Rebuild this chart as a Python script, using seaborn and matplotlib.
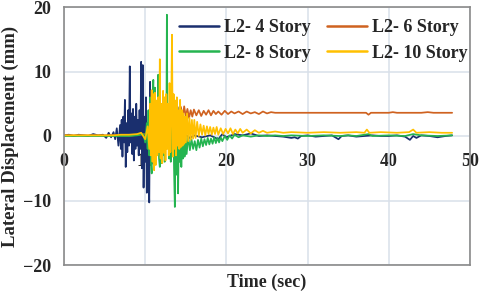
import matplotlib
matplotlib.use("Agg")
import matplotlib.pyplot as plt
from matplotlib.lines import Line2D
import seaborn as sns
import pandas as pd

# ---------------- data ----------------
series_names = ["L2- 4 Story", "L2- 6 Story", "L2- 8 Story", "L2- 10 Story"]
series_colors = ["#1a2f6e", "#cf6220", "#25b450", "#ffc000"]

t4 = [0.0, 0.6, 1.2, 1.8, 2.4, 3.0, 3.6, 4.2, 4.8, 5.2, 5.5, 5.8, 6.1, 6.3, 6.5, 6.7, 6.9, 7.0, 7.1, 7.2,
      7.3, 7.4, 7.5, 7.6, 7.7, 7.8, 7.9, 8.0, 8.1, 8.2, 8.3, 8.4, 8.5, 8.6, 8.7, 8.8, 8.9, 9.0, 9.1, 9.2,
      9.3, 9.4, 9.5, 9.6, 9.7, 9.8, 9.9, 10.0, 10.1, 10.2, 10.3, 10.4, 10.5, 10.6, 10.7, 10.8, 10.9, 11.0,
      11.2, 11.4, 11.6, 11.8, 12.0, 12.4, 12.8, 13.2, 13.6, 14.0, 14.5, 15.0, 15.5, 16.0, 17.0, 18.0, 19.0,
      19.5, 20.0, 21.0, 22.0, 23.0, 24.0, 25.0, 26.0, 27.0, 28.0, 28.4, 28.8, 29.2, 30.0, 31.0, 32.0, 33.0,
      33.8, 34.2, 35.0, 36.0, 37.0, 38.0, 39.0, 40.0, 41.0, 42.0, 42.6, 43.0, 43.4, 44.0, 45.0, 46.0, 47.0, 47.8]
y4 = [0.1, 0.2, 0.0, 0.2, 0.1, 0.0, 0.3, 0.1, 0.2, -0.3, 0.5, -0.2, 0.6, -0.5, 1.2, -1.5, 1.7, -2.0, 2.5, -3.2,
      3.0, -1.0, 5.6, -4.8, 2.0, -2.5, 4.0, -1.5, 10.8, -1.0, 3.5, -2.8, 4.2, -3.8, 3.0, -2.0, 5.0, -1.5, 2.5, -3.0,
      4.0, -2.0, 11.5, -5.0, 11.0, -8.0, 3.0, -4.0, 6.0, -8.8, 2.0, -6.0, -10.3, 8.4, -3.0, 2.0, -2.0, 1.0,
      -1.0, 0.8, -0.6, 0.5, -0.4, 0.4, -0.5, 0.3, -0.6, 0.2, -0.4, 0.2, -0.3, 0.1, -0.2, 0.1, -0.5,
      0.3, -0.2, 0.3, 0.1, 0.4, 0.0, 0.1, 0.0, -0.1, -0.3, -0.2, -0.4, 0.0, 0.1, -0.1, 0.0, 0.1,
      -0.5, 0.0, 0.1, -0.1, 0.0, 0.1, 0.0, 0.0, 0.1, -0.1, -0.6, 0.0, -0.3, 0.1, 0.0, -0.2, 0.0, 0.1]

t6 = [0.0, 2.0, 4.0, 6.0, 8.0, 9.0, 10.0, 10.5, 10.8, 11.0, 11.2, 11.4, 11.6, 11.8, 12.0, 12.2, 12.4, 12.6,
      12.8, 13.0, 13.2, 13.4, 13.6, 13.8, 14.0, 14.2, 14.4, 14.6, 14.8, 15.0, 15.2, 15.4, 15.6, 15.8, 16.0,
      16.3, 16.6, 16.9, 17.2, 17.5, 17.8, 18.1, 18.4, 18.7, 19.0, 19.4, 19.8, 20.2, 20.6, 21.0, 21.5, 22.0,
      22.5, 23.0, 23.5, 24.0, 24.5, 25.0, 25.5, 26.0, 27.0, 30.0, 33.0, 36.0, 37.2, 37.5, 37.8, 40.0, 40.5,
      41.0, 44.0, 44.8, 45.5, 47.8]
y6 = [0.1, 0.1, 0.1, 0.1, 0.0, 0.2, 0.3, -1.0, 1.5, -2.0, 2.5, -1.5, 3.0, -1.0, 2.0, -2.0, 3.5, -1.0,
      4.0, -0.5, 3.0, -1.5, 4.0, -2.5, 4.5, 2.0, 4.5, 2.8, 4.6, 3.0, 4.2, 2.8, 4.0, 3.0, 4.1,
      3.2, 4.0, 3.1, 3.9, 3.3, 4.0, 3.2, 3.9, 3.4, 3.8, 3.3, 3.9, 3.4, 3.8, 3.5, 3.8, 3.4,
      3.8, 3.5, 3.7, 3.4, 3.8, 3.5, 3.7, 3.6, 3.6, 3.6, 3.6, 3.6, 3.6, 3.3, 3.6, 3.6, 3.7,
      3.6, 3.6, 3.7, 3.6, 3.6]

t8 = [0.0, 2.0, 4.0, 6.0, 8.0, 9.0, 9.8, 10.0, 10.2, 10.3, 10.4, 10.5, 10.6, 10.7, 10.8, 10.9, 11.0, 11.1,
      11.2, 11.3, 11.4, 11.5, 11.6, 11.7, 11.8, 11.9, 12.0, 12.1, 12.2, 12.3, 12.4, 12.5, 12.6, 12.67, 12.75,
      12.85, 12.95, 13.05, 13.15, 13.25, 13.35, 13.45, 13.55, 13.65, 13.75, 13.85, 13.95, 14.05, 14.15, 14.25,
      14.35, 14.45, 14.55, 14.65, 14.75, 14.85, 14.95, 15.1, 15.3, 15.5, 15.7, 15.9, 16.1, 16.3, 16.5, 16.7,
      16.9, 17.1, 17.3, 17.5, 17.7, 17.9, 18.1, 18.3, 18.5, 18.7, 18.9, 19.1, 19.3, 19.5, 19.8, 20.1, 20.4,
      20.7, 21.0, 21.5, 22.0, 23.0, 24.0, 25.0, 26.0, 27.0, 28.0, 30.0, 32.0, 34.0, 35.0, 36.0, 37.5, 38.0,
      40.0, 42.0, 43.0, 44.0, 46.0, 47.8]
y8 = [0.0, 0.0, 0.0, 0.0, 0.0, 0.1, 0.3, -1.0, 2.0, -2.0, 4.0, -3.0, 6.0, -4.0, -5.8, 5.0, 8.7, -3.0,
      7.5, -4.0, 5.0, -2.0, 9.5, -3.5, -4.8, 3.0, -4.2, 4.0, -3.0, 5.0, -4.0, 3.0, -2.0, 18.8, -1.0,
      4.0, -3.5, 3.0, -4.0, 2.0, -3.0, 4.0, -5.0, -11.0, 3.0, -6.0, 4.5, -8.9, 2.0, -4.0,
      3.0, -4.8, 1.5, -3.5, 1.0, -3.2, 0.5, -2.8, 0.0, -2.2, -0.5, -2.0, -0.8, -2.2, -0.6, -1.8,
      -0.4, -1.6, -0.5, -1.4, -0.3, -1.3, -0.4, -1.2, -0.2, -1.1, -0.3, -1.0, -0.2, -0.8, 0.0, -0.6, 0.1,
      -0.4, 0.2, -0.2, 0.1, -0.1, 0.1, 0.0, 0.1, 0.0, 0.1, 0.0, 0.1, 0.0, 0.1, 0.0, 0.3, 0.0,
      0.1, 0.0, 0.3, 0.1, 0.0, 0.1]

t10 = [0.0, 1.0, 2.0, 3.0, 4.0, 5.0, 6.0, 7.0, 8.0, 9.0, 9.5, 10.0, 10.3, 10.5, 10.6, 10.7, 10.8, 10.9, 11.0,
       11.1, 11.2, 11.3, 11.4, 11.5, 11.6, 11.7, 11.8, 11.9, 12.0, 12.1, 12.2, 12.3, 12.4, 12.5, 12.6, 12.7,
       12.8, 12.9, 13.0, 13.1, 13.2, 13.3, 13.4, 13.5, 13.6, 13.7, 13.8, 13.9, 14.0, 14.1, 14.2, 14.3, 14.4,
       14.5, 14.6, 14.7, 14.8, 14.9, 15.0, 15.15, 15.3, 15.45, 15.6, 15.75, 15.9, 16.05, 16.2, 16.4, 16.6,
       16.8, 17.0, 17.2, 17.4, 17.6, 17.8, 18.0, 18.2, 18.4, 18.6, 18.8, 19.0, 19.3, 19.6, 19.9, 20.2, 20.5,
       20.8, 21.1, 21.4, 21.7, 22.0, 22.5, 23.0, 23.5, 24.0, 24.5, 25.0, 26.0, 27.0, 28.0, 30.0, 32.0, 34.0,
       36.0, 37.0, 37.3, 37.6, 39.0, 41.0, 42.5, 43.0, 43.4, 45.0, 46.5, 47.8]
y10 = [0.1, 0.1, 0.1, 0.1, 0.1, 0.1, 0.1, 0.2, 0.2, 0.3, 0.5, -0.5, 1.5, -2.0, 5.0, -3.0, 7.1, -4.0, 6.5,
       -5.3, 6.7, -4.5, 5.5, -3.0, 6.0, -2.5, 11.9, -3.5, 5.0, -4.2, 7.0, -2.6, 6.0, -3.8, 6.5, -2.0,
       5.0, -3.0, 8.2, -2.5, 4.0, 15.7, -3.2, 6.5, -2.0, 5.5, -3.0, 6.0, -1.5, 4.0, -2.0, 5.6, -1.7,
       4.0, -1.5, 3.5, -1.2, 3.0, -1.0, 3.5, -0.8, 2.8, -0.6, 2.5, -0.4, 2.5, -0.3, 2.2, 0.0,
       1.8, 0.2, 1.6, 0.1, 1.5, 0.3, 1.4, 0.2, 1.3, 0.3, 1.4, 0.2, 1.2, 0.3, 1.1, 0.4, 1.2,
       0.3, 1.0, 0.4, 1.1, 0.5, 1.0, 0.4, 0.9, 0.5, 0.8, 0.5, 0.7, 0.5, 0.6, 0.5, 0.6, 0.5,
       0.6, 0.5, 1.0, 0.5, 0.6, 0.5, 0.6, 1.0, 0.5, 0.6, 0.5, 0.5]

x_ticks = [0, 10, 20, 30, 40, 50]
y_ticks = [-20, -10, 0, 10, 20]

# ---------------- build long table ----------------
frames = []
for name, t, y in zip(series_names, [t4, t6, t8, t10], [y4, y6, y8, y10]):
    frames.append(pd.DataFrame({"time": t, "disp": y, "series": name}))
df = pd.concat(frames, ignore_index=True)

sns.set_theme(style="white")
plt.rcParams["font.family"] = ["Liberation Serif", "DejaVu Serif"]
plt.rcParams["font.weight"] = "bold"

fig = plt.figure(figsize=(4.8, 2.91), dpi=100)
ax = fig.add_axes([64 / 480, 1 - 265 / 291, (470 - 64) / 480, (265 - 7) / 291])

sns.lineplot(data=df, x="time", y="disp", hue="series", hue_order=series_names,
             palette=series_colors, estimator=None, sort=False, linewidth=1.25,
             legend=False, ax=ax)

ax.set_xlim(0, 50)
ax.set_ylim(-20, 20)
ax.set_xticks(x_ticks)
ax.set_yticks(y_ticks)
ax.grid(True, color="#d9e0ea", linewidth=1.1)
ax.set_axisbelow(True)
for s in ax.spines.values():
    s.set_color("#8a8a8a")
    s.set_linewidth(1.2)
    s.set_visible(True)

ax.tick_params(axis="x", length=0, labelbottom=False)
ax.tick_params(axis="y", length=0, pad=9, labelsize=13)

sec = ax.secondary_xaxis(0.5)
sec.set_xticks(x_ticks)
sec.xaxis.tick_bottom()
sec.tick_params(length=0, pad=12, labelsize=13, labelbottom=True, labeltop=False)
for sp in sec.spines.values():
    sp.set_visible(False)
for lab in sec.get_xticklabels():
    lab.set_fontweight("bold")
for lab in ax.get_yticklabels():
    lab.set_fontweight("bold")

ax.set_xlabel("Time (sec)", fontsize=13, fontweight="bold", labelpad=6)
ax.set_ylabel("Lateral Displacement (mm)", fontsize=13.5, fontweight="bold", labelpad=3)

handles = [Line2D([], [], color=c, linewidth=1.8) for c in series_colors]
order = [0, 2, 1, 3]
ax.legend([handles[i] for i in order], [series_names[i] for i in order], ncol=2,
          loc="upper right", bbox_to_anchor=(1.013, 0.98), frameon=False,
          prop={"size": 13, "weight": "bold"}, handlelength=2.2, handletextpad=0.3,
          columnspacing=0.9, labelspacing=0.45, borderaxespad=0.0)

fig.savefig("out.png", dpi=100)
